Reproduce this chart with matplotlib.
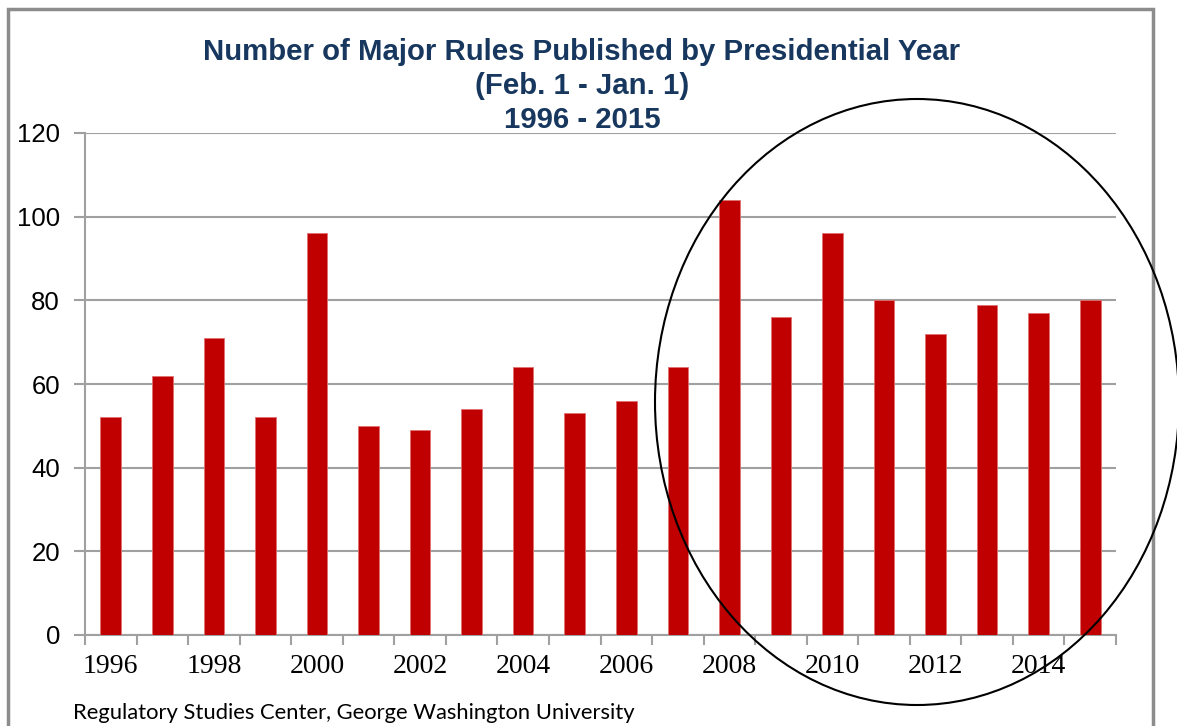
import matplotlib
matplotlib.use("Agg")
import matplotlib.pyplot as plt
from matplotlib.patches import Ellipse, Rectangle
import numpy as np

years = list(range(1996, 2016))
rules = [52, 62, 71, 52, 96, 50, 49, 54, 64, 53, 56, 64, 104, 76, 96, 80, 72, 79, 77, 80]
y_ticks = [0, 20, 40, 60, 80, 100, 120]

title = "Number of Major Rules Published by Presidential Year\n(Feb. 1 - Jan. 1)\n1996 - 2015"
source = "Regulatory Studies Center, George Washington University"

W, H = 1177, 726
fig = plt.figure(figsize=(W / 100, H / 100), dpi=100)
ax = fig.add_axes([85 / W, 1 - 635 / H, (1116 - 85) / W, (635 - 133) / H])

x = np.arange(len(years))
ax.bar(x, rules, width=0.4, color="#C00000", edgecolor="#E07070", linewidth=0.6, zorder=3)

ax.set_xlim(-0.5, len(years) - 0.5)
ax.set_ylim(0, 120)
ax.set_yticks(y_ticks)
ax.set_yticklabels([str(v) for v in y_ticks], fontsize=18.5, family="Liberation Sans")
ax.yaxis.grid(True, color="#A0A0A0", linewidth=1.5, zorder=0)
ax.tick_params(axis="y", length=8, width=1.5, color="#A0A0A0", pad=10)

# labels every other year, tick marks at category boundaries
ax.set_xticks(x[::2])
ax.set_xticklabels([str(y) for y in years[::2]], fontsize=20, family="Liberation Serif")
ax.set_xticks(np.arange(-0.5, len(years)), minor=True)
ax.tick_params(axis="x", which="major", length=0, pad=14)
ax.tick_params(axis="x", which="minor", length=7, width=1.5, color="#A0A0A0")

for s in ["top", "right"]:
    ax.spines[s].set_visible(False)
for s in ["left", "bottom"]:
    ax.spines[s].set_color("#A0A0A0")
    ax.spines[s].set_linewidth(1.5)

fig.text(582 / W, 1 - 86 / H, title, ha="center", va="center", fontsize=21.2,
         fontweight="bold", color="#17375E", family="Liberation Sans", linespacing=1.25)
fig.text(73 / W, 1 - 713 / H, source, ha="left", va="center", fontsize=15.8, family="Lato")

# outer frame
fig.add_artist(Rectangle((8 / W, -0.05), (1153 - 8) / W, 1.05 - 9 / H, transform=fig.transFigure,
                         fill=False, edgecolor="#8C8C8C", linewidth=2.5))

# hand-drawn emphasis circle
fig.add_artist(Ellipse((917 / W, 1 - 402 / H), 524 / W, 606 / H, transform=fig.transFigure,
                       fill=False, edgecolor="black", linewidth=1.5, zorder=10))

fig.savefig("out.png", dpi=100)
